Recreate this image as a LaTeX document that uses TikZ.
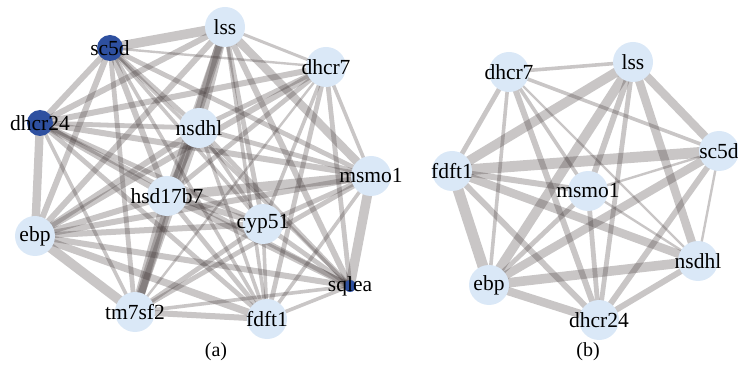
\documentclass[tikz,border=0pt]{standalone}
\usepackage{fontspec}
\setmainfont{Liberation Serif}
\pgfdeclarelayer{background}
\pgfsetlayers{background,main}
\definecolor{nodelight}{RGB}{218,232,247}
\definecolor{nodedark}{RGB}{46,80,160}
\definecolor{edgecol}{RGB}{60,50,50}
\tikzset{
  lbl/.style={font=\fontsize{21.5}{24}\selectfont,inner sep=0pt},
  nd/.style={circle,fill=nodelight,draw=none,minimum size=40pt,inner sep=0pt,label={[lbl]center:#1}},
  dk/.style={circle,fill=nodedark,draw=none,minimum size=26pt,inner sep=0pt,label={[lbl]center:#1}},
  dks/.style={circle,fill=nodedark,draw=none,minimum size=12pt,inner sep=0pt,label={[lbl]center:#1}},
  ed/.style={draw=edgecol,opacity=0.28,line width=1.2*#1pt,line cap=butt},
  captxt/.style={font=\fontsize{20}{22}\selectfont}
}
\begin{document}
\begin{tikzpicture}[x=1pt,y=-1pt]
\useasboundingbox (0,0) rectangle (738,379);
% ---------- graph (a) ----------
\node[nd=lss] (aL) at (225,27) {};
\node[dk=sc5d] (aS) at (110,48) {};
\node[nd=dhcr7] (aD7) at (326,67) {};
\node[dk=dhcr24] (aD24) at (40,123) {};
\node[nd=nsdhl] (aN) at (199,128) {};
\node[nd=msmo1] (aM) at (371,176) {};
\node[nd=hsd17b7] (aH) at (167,196) {};
\node[nd=cyp51] (aC) at (263,224) {};
\node[nd=ebp] (aE) at (35,236) {};
\node[dks=sqlea] (aQ) at (350,286) {};
\node[nd=tm7sf2] (aT) at (135,312) {};
\node[nd=fdft1] (aF) at (267,319) {};
\begin{pgfonlayer}{background}
\foreach \a/\b/\w in {
 aL/aS/8, aL/aD7/2.5, aL/aD24/5, aL/aN/7, aL/aM/7, aL/aH/6, aL/aC/4, aL/aE/5, aL/aQ/5, aL/aT/7, aL/aF/3,
 aS/aD7/2, aS/aD24/5, aS/aN/4, aS/aM/4, aS/aH/5, aS/aC/3, aS/aE/5, aS/aQ/3, aS/aT/4, aS/aF/3,
 aD7/aD24/5, aD7/aN/4, aD7/aM/3, aD7/aH/4, aD7/aC/3, aD7/aE/5, aD7/aQ/4, aD7/aT/2, aD7/aF/4,
 aD24/aN/4, aD24/aM/5, aD24/aH/5, aD24/aC/4, aD24/aE/7, aD24/aQ/4, aD24/aT/3, aD24/aF/4,
 aN/aM/4, aN/aH/6, aN/aC/3, aN/aE/5, aN/aQ/4, aN/aT/6, aN/aF/3,
 aM/aH/8, aM/aC/4, aM/aE/5, aM/aQ/8, aM/aT/4, aM/aF/3,
 aH/aC/5, aH/aE/5, aH/aQ/5, aH/aT/8, aH/aF/4,
 aC/aE/5, aC/aQ/4, aC/aT/4, aC/aF/3,
 aE/aQ/5, aE/aT/8, aE/aF/6,
 aQ/aT/3, aQ/aF/3,
 aT/aF/5}
 \draw[ed=\w] (\a.center) -- (\b.center);
\end{pgfonlayer}
% ---------- graph (b) ----------
\node[nd=dhcr7] (bD7) at (509,72) {};
\node[nd=lss] (bL) at (633,62) {};
\node[nd=sc5d] (bS) at (719,151) {};
\node[nd=fdft1] (bF) at (452,171) {};
\node[nd=msmo1] (bM) at (588,191) {};
\node[nd=nsdhl] (bN) at (698,261) {};
\node[nd=ebp] (bE) at (489,285) {};
\node[nd=dhcr24] (bD24) at (599,320) {};
\begin{pgfonlayer}{background}
\foreach \a/\b/\w in {
 bD7/bL/3, bD7/bS/3, bD7/bF/4, bD7/bE/3, bD7/bD24/5, bD7/bM/3, bD7/bN/2,
 bL/bF/8, bL/bE/8, bL/bM/5, bL/bD24/4, bL/bN/7, bL/bS/7,
 bS/bF/9, bS/bM/2, bS/bE/7, bS/bD24/5, bS/bN/2,
 bF/bM/5, bF/bN/7, bF/bE/9, bF/bD24/5,
 bM/bE/4, bM/bD24/4, bM/bN/2,
 bN/bE/8, bN/bD24/5,
 bE/bD24/7}
 \draw[ed=\w] (\a.center) -- (\b.center);
\end{pgfonlayer}
\node[captxt] (capa) at (216,352) {(a)};
\node[captxt] (capb) at (588,352) {(b)};
\end{tikzpicture}
\end{document}
